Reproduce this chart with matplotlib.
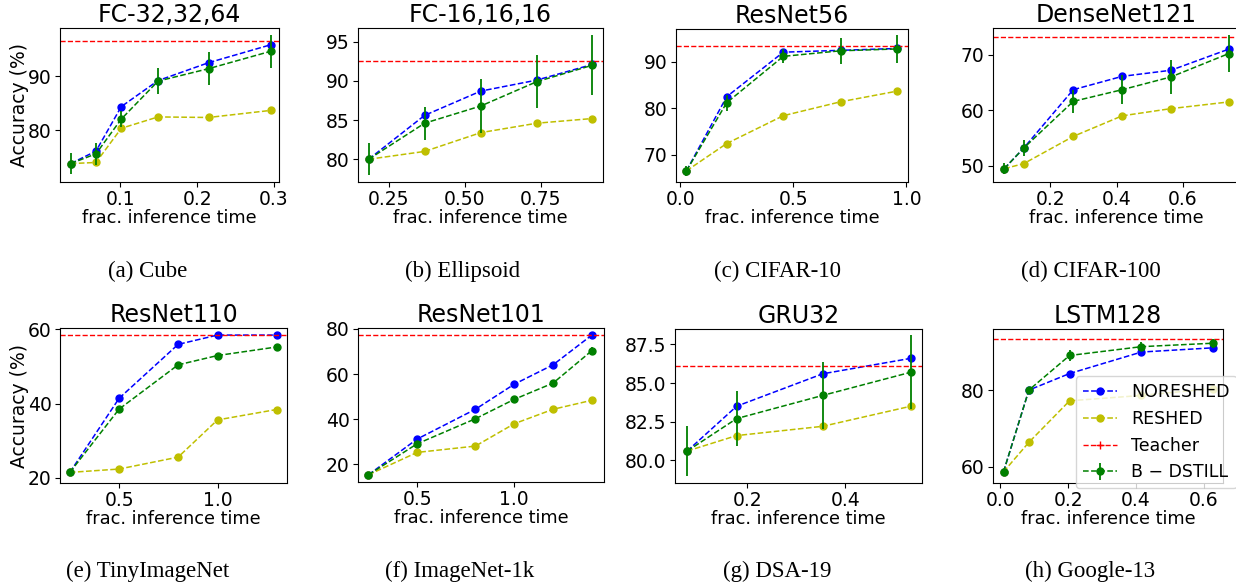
import matplotlib
matplotlib.use("Agg")
import matplotlib.pyplot as plt
from matplotlib.lines import Line2D

# ---------------- data ----------------
titles = ["FC-32,32,64", "FC-16,16,16", "ResNet56", "DenseNet121",
          "ResNet110", "ResNet101", "GRU32", "LSTM128"]
captions = ["(a) Cube", "(b) Ellipsoid", "(c) CIFAR-10", "(d) CIFAR-100",
            "(e) TinyImageNet", "(f) ImageNet-1k", "(g) DSA-19", "(h) Google-13"]
series_names = ["NORESHED", "RESHED", "Teacher", "B \u2212 DSTILL"]

cube_x = [0.035, 0.068, 0.101, 0.149, 0.215, 0.296]
cube_noreshed = [73.9, 76.2, 84.4, 89.2, 92.5, 95.8]
cube_reshed = [73.9, 74.1, 80.4, 82.5, 82.4, 83.7]
cube_bdstill = [73.9, 75.7, 82.1, 89.1, 91.4, 94.6]
cube_bdstill_err = [2.0, 2.0, 1.5, 2.4, 3.0, 3.0]
cube_teacher = 96.5

ellipsoid_x = [0.184, 0.368, 0.553, 0.737, 0.920]
ellipsoid_noreshed = [80.0, 85.6, 88.7, 90.1, 92.1]
ellipsoid_reshed = [80.0, 81.0, 83.4, 84.6, 85.2]
ellipsoid_bdstill = [80.0, 84.6, 86.8, 89.9, 92.0]
ellipsoid_bdstill_err = [2.05, 2.1, 3.4, 3.4, 3.8]
ellipsoid_teacher = 92.5

cifar10_x = [0.028, 0.206, 0.456, 0.709, 0.959]
cifar10_noreshed = [66.5, 82.5, 92.1, 92.5, 92.9]
cifar10_reshed = [66.5, 72.4, 78.4, 81.4, 83.7]
cifar10_bdstill = [66.5, 81.2, 91.2, 92.4, 92.8]
cifar10_bdstill_err = [1.0, 1.7, 1.5, 2.8, 3.0]
cifar10_teacher = 93.5

cifar100_x = [0.060, 0.119, 0.269, 0.417, 0.565, 0.740]
cifar100_noreshed = [49.5, 53.2, 63.7, 66.1, 67.2, 71.0]
cifar100_reshed = [49.5, 50.4, 55.3, 59.0, 60.3, 61.5]
cifar100_bdstill = [49.5, 53.2, 61.6, 63.7, 66.0, 70.2]
cifar100_bdstill_err = [1.0, 1.4, 2.0, 2.6, 3.0, 3.4]
cifar100_teacher = 73.1

tiny_x = [0.25, 0.50, 0.80, 1.00, 1.30]
tiny_noreshed = [21.5, 41.4, 55.9, 58.4, 58.4]
tiny_reshed = [21.5, 22.4, 25.6, 35.6, 38.4]
tiny_bdstill = [21.5, 38.5, 50.4, 52.9, 55.2]
tiny_bdstill_err = [0.5, 0.5, 0.5, 0.5, 0.5]
tiny_teacher = 58.4

imagenet_x = [0.25, 0.50, 0.80, 1.00, 1.20, 1.40]
imagenet_noreshed = [15.4, 31.2, 44.4, 55.5, 64.1, 77.3]
imagenet_reshed = [15.4, 25.3, 28.1, 38.0, 44.4, 48.4]
imagenet_bdstill = [15.4, 29.1, 40.2, 48.8, 56.0, 70.4]
imagenet_bdstill_err = [0.5, 0.6, 0.6, 0.8, 1.2, 1.5]
imagenet_teacher = 77.3

dsa_x = [0.077, 0.178, 0.354, 0.534]
dsa_noreshed = [80.6, 83.5, 85.6, 86.6]
dsa_reshed = [80.6, 81.6, 82.2, 83.5]
dsa_bdstill = [80.6, 82.7, 84.2, 85.7]
dsa_bdstill_err = [1.6, 1.8, 2.15, 2.4]
dsa_teacher = 86.1

google_x = [0.009, 0.084, 0.204, 0.416, 0.628]
google_noreshed = [58.7, 80.0, 84.3, 89.9, 91.0]
google_reshed = [58.7, 66.4, 77.2, 78.6, 80.4]
google_bdstill = [58.7, 80.0, 89.0, 91.3, 92.2]
google_bdstill_err = [0.5, 0.5, 1.5, 1.2, 1.2]
google_teacher = 93.3

xticks = [[0.1, 0.2, 0.3], [0.25, 0.50, 0.75], [0.0, 0.5, 1.0], [0.2, 0.4, 0.6],
          [0.5, 1.0], [0.5, 1.0], [0.2, 0.4], [0.0, 0.2, 0.4, 0.6]]
xticklabels = [["0.1", "0.2", "0.3"], ["0.25", "0.50", "0.75"], ["0.0", "0.5", "1.0"],
               ["0.2", "0.4", "0.6"], ["0.5", "1.0"], ["0.5", "1.0"], ["0.2", "0.4"],
               ["0.0", "0.2", "0.4", "0.6"]]
yticks = [[80, 90], [80, 85, 90, 95], [70, 80, 90], [50, 60, 70],
          [20, 40, 60], [20, 40, 60, 80], [80.0, 82.5, 85.0, 87.5], [60, 80]]
yticklabels = [["80", "90"], ["80", "85", "90", "95"], ["70", "80", "90"], ["50", "60", "70"],
               ["20", "40", "60"], ["20", "40", "60", "80"],
               ["80.0", "82.5", "85.0", "87.5"], ["60", "80"]]

panels = [
    (cube_x, cube_noreshed, cube_reshed, cube_bdstill, cube_bdstill_err, cube_teacher),
    (ellipsoid_x, ellipsoid_noreshed, ellipsoid_reshed, ellipsoid_bdstill, ellipsoid_bdstill_err, ellipsoid_teacher),
    (cifar10_x, cifar10_noreshed, cifar10_reshed, cifar10_bdstill, cifar10_bdstill_err, cifar10_teacher),
    (cifar100_x, cifar100_noreshed, cifar100_reshed, cifar100_bdstill, cifar100_bdstill_err, cifar100_teacher),
    (tiny_x, tiny_noreshed, tiny_reshed, tiny_bdstill, tiny_bdstill_err, tiny_teacher),
    (imagenet_x, imagenet_noreshed, imagenet_reshed, imagenet_bdstill, imagenet_bdstill_err, imagenet_teacher),
    (dsa_x, dsa_noreshed, dsa_reshed, dsa_bdstill, dsa_bdstill_err, dsa_teacher),
    (google_x, google_noreshed, google_reshed, google_bdstill, google_bdstill_err, google_teacher),
]

# ---------------- layout (pixels: left, top, right, bottom) ----------------
W, H = 1236, 583
boxes = [(60, 28, 279, 182), (358, 28, 603, 182), (676, 29, 908, 182), (993, 28, 1240, 182),
         (60, 328, 287, 483), (358, 328, 604, 482), (675, 329, 922, 483), (993, 329, 1223, 483)]
xlims = [(0.021, 0.307), (0.149, 0.955), (-0.018, 1.007), (0.026, 0.774),
         (0.20, 1.353), (0.196, 1.462), (0.052, 0.557), (-0.022, 0.657)]
ylims = [(70.5, 98.9), (77.1, 96.75), (64.1, 97.1), (47.1, 74.8),
         (18.65, 60.3), (12.2, 80.4), (78.53, 88.5), (55.8, 95.9)]
caption_pos = [(148, 271), (463, 271), (777, 271), (1091, 271),
               (148, 571), (460, 571), (777, 571), (1090, 571)]

plt.rcParams["font.family"] = ["DejaVu Sans"]
fig = plt.figure(figsize=(W / 100, H / 100), dpi=100)

for i, (x, nor, res, bd, err, teach) in enumerate(panels):
    l, t, r, b = boxes[i]
    ax = fig.add_axes([l / W, 1 - b / H, (r - l) / W, (b - t) / H])
    ax.plot(x, nor, "b--o", ms=5, lw=1.1, label=series_names[0])
    ax.plot(x, res, "y--o", ms=5, lw=1.1, label=series_names[1])
    ax.axhline(teach, color="r", ls="--", lw=1.0)
    ax.errorbar(x, bd, yerr=err, fmt="g--o", ms=5, lw=1.1, elinewidth=1.3,
                label=series_names[3])
    ax.set_xlim(*xlims[i])
    ax.set_ylim(*ylims[i])
    ax.set_xticks(xticks[i])
    ax.set_xticklabels(xticklabels[i])
    ax.set_yticks(yticks[i])
    ax.set_yticklabels(yticklabels[i])
    ax.tick_params(labelsize=13.5, pad=2.5)
    ax.set_title(titles[i], fontsize=17, pad=4)
    ax.set_xlabel("frac. inference time", fontsize=12.8, labelpad=0)
    if i in (0, 4):
        ax.set_ylabel("Accuracy (%)", fontsize=13.5)
        ax.yaxis.set_label_coords((29 - l) / (r - l), 0.5)
    cx, cy = caption_pos[i]
    fig.text(cx / W, 1 - cy / H, captions[i], ha="center", va="center",
             fontsize=16.5, family="Liberation Serif")
    if i == 7:
        handles = [
            Line2D([], [], color="b", ls="--", marker="o", ms=5, lw=1.1),
            Line2D([], [], color="y", ls="--", marker="o", ms=5, lw=1.1),
            Line2D([], [], color="r", ls="--", marker="+", ms=6, lw=1.0),
        ]
        h_all, l_all = ax.get_legend_handles_labels()
        handles.append(h_all[-1])
        ax.legend(handles, series_names, loc="lower left",
                  bbox_to_anchor=(0.36, -0.035), fontsize=12.5,
                  borderaxespad=0, handlelength=2.0)

fig.savefig("out.png", dpi=100)
